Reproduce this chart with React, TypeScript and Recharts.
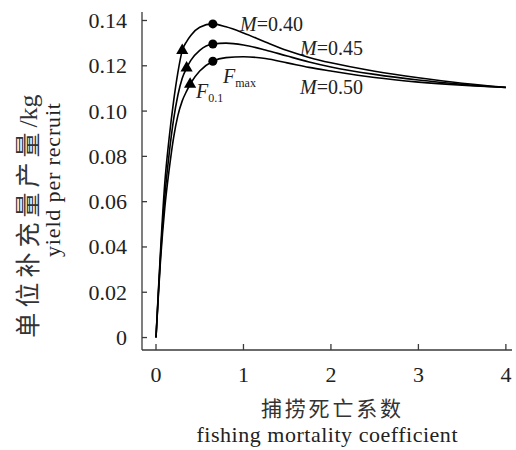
import React from "react";
import { ComposedChart, Line, Scatter, XAxis, YAxis, Customized } from "recharts";

const F = [0, 0.025, 0.05, 0.1, 0.15, 0.2, 0.25, 0.3, 0.35, 0.4, 0.5, 0.65, 0.8, 1, 1.25, 1.5, 1.75, 2, 2.5, 3, 3.5, 4];
const M40 = [0, 0.019, 0.037, 0.068, 0.088, 0.104, 0.117, 0.1267, 0.1307, 0.1335, 0.137, 0.1385, 0.1372, 0.1345, 0.1305, 0.1267, 0.1237, 0.1213, 0.1176, 0.1147, 0.1123, 0.1105];
const M45 = [0, 0.018, 0.035, 0.062, 0.081, 0.096, 0.107, 0.1145, 0.119, 0.1225, 0.1268, 0.1296, 0.13, 0.1292, 0.127, 0.1243, 0.1217, 0.1195, 0.1162, 0.1137, 0.1118, 0.1104];
const M50 = [0, 0.017, 0.033, 0.057, 0.074, 0.088, 0.098, 0.1045, 0.1088, 0.1125, 0.1177, 0.122, 0.1236, 0.124, 0.1232, 0.1213, 0.1193, 0.1177, 0.1148, 0.1128, 0.1114, 0.1104];

const FMAX_F = [0.65, 0.65, 0.65];
const FMAX_Y = [0.1385, 0.1296, 0.122];
const F01_F = [0.3, 0.35, 0.39];
const F01_Y = [0.1267, 0.119, 0.1118];

const X_TICKS = [0, 1, 2, 3, 4];
const Y_TICKS = [0, 0.02, 0.04, 0.06, 0.08, 0.1, 0.12, 0.14];

const data = F.map((f, i) => ({ F: f, m40: M40[i], m45: M45[i], m50: M50[i] }));
const fmaxData = FMAX_F.map((f, i) => ({ F: f, y: FMAX_Y[i] }));
const f01Data = F01_F.map((f, i) => ({ F: f, y: F01_Y[i] }));

const SERIF = "'Liberation Serif', 'Times New Roman', Times, serif";
const CJK = "'Noto Sans CJK SC', sans-serif";
const AXIS = "#3a3a3a";
const TXT = "#222";

const serif = (size: number, extra: any = {}) => ({ fontFamily: SERIF, fontSize: size, ...extra });
const cjk = (size: number, extra: any = {}) => ({ fontFamily: CJK, fontSize: size, ...extra });

const XTick = (props: any) => {
  const { x, y, payload } = props;
  return (
    <g>
      <line x1={x} y1={y} x2={x} y2={y - 6} stroke={AXIS} strokeWidth={1.3} />
      <text x={x} y={y + 24} textAnchor="middle" dominantBaseline="central" style={serif(22)} fill={TXT}>
        {payload.value}
      </text>
    </g>
  );
};

const YTick = (props: any) => {
  const { x, y, payload } = props;
  const v = payload.value;
  const label = v === 0 ? "0" : v.toFixed(2);
  return (
    <g>
      <line x1={x} y1={y} x2={x + 5} y2={y} stroke={AXIS} strokeWidth={1.3} />
      <text x={x - 15} y={y} textAnchor="end" dominantBaseline="central" style={serif(22)} fill={TXT}>
        {label}
      </text>
    </g>
  );
};

const Labels = () => (
  <g>
    <text x={240} y={31} style={serif(20)} fill={TXT}>
      <tspan style={{ fontStyle: "italic" }}>M</tspan>=0.40
    </text>
    <text x={300} y={55} style={serif(20)} fill={TXT}>
      <tspan style={{ fontStyle: "italic" }}>M</tspan>=0.45
    </text>
    <text x={300} y={94} style={serif(20)} fill={TXT}>
      <tspan style={{ fontStyle: "italic" }}>M</tspan>=0.50
    </text>
    <text x={223} y={83} style={serif(20)} fill={TXT}>
      <tspan style={{ fontStyle: "italic" }}>F</tspan>
      <tspan style={{ fontSize: 12 }} dy={4}>max</tspan>
    </text>
    <text x={196} y={98} style={serif(20)} fill={TXT}>
      <tspan style={{ fontStyle: "italic" }}>F</tspan>
      <tspan style={{ fontSize: 12 }} dy={4}>0.1</tspan>
    </text>
    <text x={331} y={407} textAnchor="middle" dominantBaseline="central" style={cjk(21)} fill="#333" textLength={140} lengthAdjust="spacing">
      捕捞死亡系数
    </text>
    <text x={327} y={442} textAnchor="middle" style={serif(22)} fill={TXT} textLength={261} lengthAdjust="spacing">
      fishing mortality coefficient
    </text>
    <text x={37} y={216} transform="rotate(-90 37 216)" textAnchor="middle" fill="#333">
      <tspan style={cjk(25, { letterSpacing: 5 })}>单位补充量产量</tspan>
      <tspan style={serif(26)}>/kg</tspan>
    </text>
    <text x={60} y={180} transform="rotate(-90 60 180)" textAnchor="middle" style={serif(22)} fill={TXT} textLength={154} lengthAdjust="spacing">
      yield per recruit
    </text>
  </g>
);

export default function App() {
  return (
    <div style={{ position: "absolute", left: 0, top: 0, width: 516, height: 450, background: "#fff" }}>
      <ComposedChart width={516} height={450} data={data} margin={{ top: 12, right: 4, bottom: 70, left: 0 }}>
        <XAxis
          type="number"
          dataKey="F"
          domain={[-0.16, 4.07]}
          ticks={X_TICKS}
          allowDataOverflow
          height={30}
          tickSize={0}
          tickMargin={0}
          tickLine={false}
          tick={<XTick />}
          axisLine={{ stroke: AXIS, strokeWidth: 1.3 }}
          interval={0}
        />
        <YAxis
          type="number"
          domain={[-0.0055, 0.14375]}
          ticks={Y_TICKS}
          allowDataOverflow
          width={142}
          tickSize={0}
          tickMargin={0}
          tickLine={false}
          tick={<YTick />}
          axisLine={{ stroke: AXIS, strokeWidth: 1.3 }}
          interval={0}
        />
        <Line type="monotone" dataKey="m40" stroke="#000" strokeWidth={1.6} dot={false} isAnimationActive={false} />
        <Line type="monotone" dataKey="m45" stroke="#000" strokeWidth={1.6} dot={false} isAnimationActive={false} />
        <Line type="monotone" dataKey="m50" stroke="#000" strokeWidth={1.6} dot={false} isAnimationActive={false} />
        <Scatter data={fmaxData} dataKey="y" fill="#000" shape="circle" isAnimationActive={false} />
        <Scatter data={f01Data} dataKey="y" fill="#000" shape="triangle" isAnimationActive={false} />
        <Customized component={Labels} />
      </ComposedChart>
    </div>
  );
}
